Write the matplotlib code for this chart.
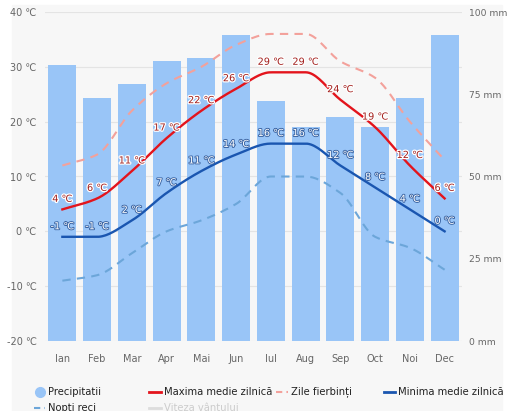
import numpy as np
import matplotlib
matplotlib.use("Agg")
import matplotlib.pyplot as plt
import matplotlib.patheffects as pe
from matplotlib.lines import Line2D
from matplotlib.patches import Rectangle

# Data
months = ["Ian", "Feb", "Mar", "Apr", "Mai", "Jun", "Iul", "Aug", "Sep", "Oct", "Noi", "Dec"]
precip_mm = [84, 74, 78, 85, 86, 93, 73, 65, 68, 65, 74, 93]
max_temp = [4, 6, 11, 17, 22, 26, 29, 29, 24, 19, 12, 6]
min_temp = [-1, -1, 2, 7, 11, 14, 16, 16, 12, 8, 4, 0]
hot_days = [12, 14, 22, 27, 30, 34, 36, 36, 31, 28, 20, 13]
cold_nights = [-9, -8, -4, 0, 2, 5, 10, 10, 7, -1, -3, -7]

BAR_COLOR = "#99c5f7"
RED = "#e3141c"
PINK = "#f3a19b"
BLUE = "#1a56b0"
LBLUE = "#6ca6d9"
BG = "#f7f7f7"
FONT = "DejaVu Sans"


def smooth(y, n=20):
    # monotone cubic hermite just for drawing the line
    y = np.asarray(y, dtype=float)
    x = np.arange(len(y))
    d = np.diff(y)
    m = np.zeros(len(y))
    for i in range(1, len(y) - 1):
        if d[i - 1] * d[i] > 0:
            m[i] = 2 / (1 / d[i - 1] + 1 / d[i])
    m[0] = d[0] if d[0] * d[1] > 0 else 0
    m[-1] = d[-1] if d[-1] * d[-2] > 0 else 0
    xs, ys = [], []
    for i in range(len(y) - 1):
        t = np.linspace(0, 1, n, endpoint=False)
        h00 = 2 * t**3 - 3 * t**2 + 1
        h10 = t**3 - 2 * t**2 + t
        h01 = -2 * t**3 + 3 * t**2
        h11 = t**3 - t**2
        xs.append(x[i] + t)
        ys.append(h00 * y[i] + h10 * m[i] + h01 * y[i + 1] + h11 * m[i + 1])
    xs.append([x[-1]])
    ys.append([y[-1]])
    return np.concatenate(xs), np.concatenate(ys)


fig = plt.figure(figsize=(5.1, 4.11), dpi=100, facecolor="white")
fig.patches.append(Rectangle((12 / 510, 0), 490 / 510, 1 - 5 / 411,
                             transform=fig.transFigure, color=BG, zorder=-10))

ax = fig.add_axes([45 / 510, 1 - 341 / 411, 417 / 510, 329 / 411])
ax2 = ax.twinx()

x = np.arange(len(months))
ax2.bar(x, precip_mm, width=0.8, color=BAR_COLOR, zorder=1)
ax2.set_ylim(0, 100)
ax2.set_yticks([0, 25, 50, 75, 100])
ax2.set_yticklabels([f"{v} mm" for v in [0, 25, 50, 75, 100]])

# temperature lines on top of the bars
ax.set_zorder(ax2.get_zorder() + 1)
ax.patch.set_visible(False)
ax2.patch.set_facecolor(BG)

ax.set_ylim(-20, 40)
ax.set_xlim(-0.5, 11.5)
ax.set_yticks(range(-20, 41, 10))
ax.set_yticklabels([f"{v} ℃" for v in range(-20, 41, 10)])
ax.set_xticks(x)
ax.set_xticklabels(months)
for v in range(-10, 41, 10):
    ax2.axhline((v + 20) / 60 * 100, color="#e4e4e4", lw=0.8, zorder=0)
ax2.axhline(0, color="#dcdcdc", lw=0.8, zorder=0)

sx, sy = smooth(hot_days)
ax.plot(sx, sy, color=PINK, lw=1.5, ls=(0, (4, 3)))
sx, sy = smooth(cold_nights)
ax.plot(sx, sy, color=LBLUE, lw=1.5, ls=(0, (4, 3)))
sx, sy = smooth(max_temp)
ax.plot(sx, sy, color=RED, lw=1.7)
sx, sy = smooth(min_temp)
ax.plot(sx, sy, color=BLUE, lw=1.7)

for i, v in enumerate(max_temp):
    ax.annotate(f"{v} ℃", (i, v), xytext=(0, 4), textcoords="offset points",
                ha="center", va="bottom", fontsize=7, color="#a3201d", family=FONT,
                path_effects=[pe.withStroke(linewidth=1.8, foreground="white")])
for i, v in enumerate(min_temp):
    ax.annotate(f"{v} ℃", (i, v), xytext=(0, 4), textcoords="offset points",
                ha="center", va="bottom", fontsize=7, color="white", family=FONT,
                path_effects=[pe.withStroke(linewidth=1.3, foreground="#3a64a3")])

for a in (ax, ax2):
    for s in a.spines.values():
        s.set_visible(False)
    a.tick_params(length=0, labelsize=7, labelcolor="#666666")
    for lab in a.get_xticklabels() + a.get_yticklabels():
        lab.set_family(FONT)
ax.tick_params(axis="x", pad=9)
ax.tick_params(axis="y", pad=6)
ax2.tick_params(axis="y", pad=5, labelsize=6.6)

# legend, drawn by hand to match the layout
y1 = 1 - 392 / 411
y2 = 1 - 408 / 411
LS = 7.2
fig.add_artist(Line2D([40 / 510], [y1], marker="o", ms=7, color=BAR_COLOR,
                      transform=fig.transFigure))
fig.text(48 / 510, y1, "Precipitatii", fontsize=LS, va="center", family=FONT, color="#222222")
fig.add_artist(Line2D([149 / 510, 161 / 510], [y1, y1], color=RED, lw=2,
                      transform=fig.transFigure))
fig.text(164 / 510, y1, "Maxima medie zilnică", fontsize=LS, va="center", family=FONT, color="#222222")
fig.add_artist(Line2D([276 / 510, 288 / 510], [y1, y1], color=PINK, lw=1.5, ls=(0, (3, 2)),
                      transform=fig.transFigure))
fig.text(291 / 510, y1, "Zile fierbinți", fontsize=LS, va="center", family=FONT, color="#222222")
fig.add_artist(Line2D([384 / 510, 395 / 510], [y1, y1], color=BLUE, lw=2,
                      transform=fig.transFigure))
fig.text(398 / 510, y1, "Minima medie zilnică", fontsize=LS, va="center", family=FONT, color="#222222")
fig.add_artist(Line2D([34 / 510, 45 / 510], [y2, y2], color=LBLUE, lw=1.5, ls=(0, (3, 2)),
                      transform=fig.transFigure))
fig.text(48 / 510, y2, "Nopti reci", fontsize=LS, va="center", family=FONT, color="#222222")
fig.add_artist(Line2D([149 / 510, 161 / 510], [y2, y2], color="#dddddd", lw=2,
                      transform=fig.transFigure))
fig.text(164 / 510, y2, "Viteza vântului", fontsize=LS, va="center", family=FONT, color="#cccccc")

fig.savefig("out.png", dpi=100, facecolor="white")
